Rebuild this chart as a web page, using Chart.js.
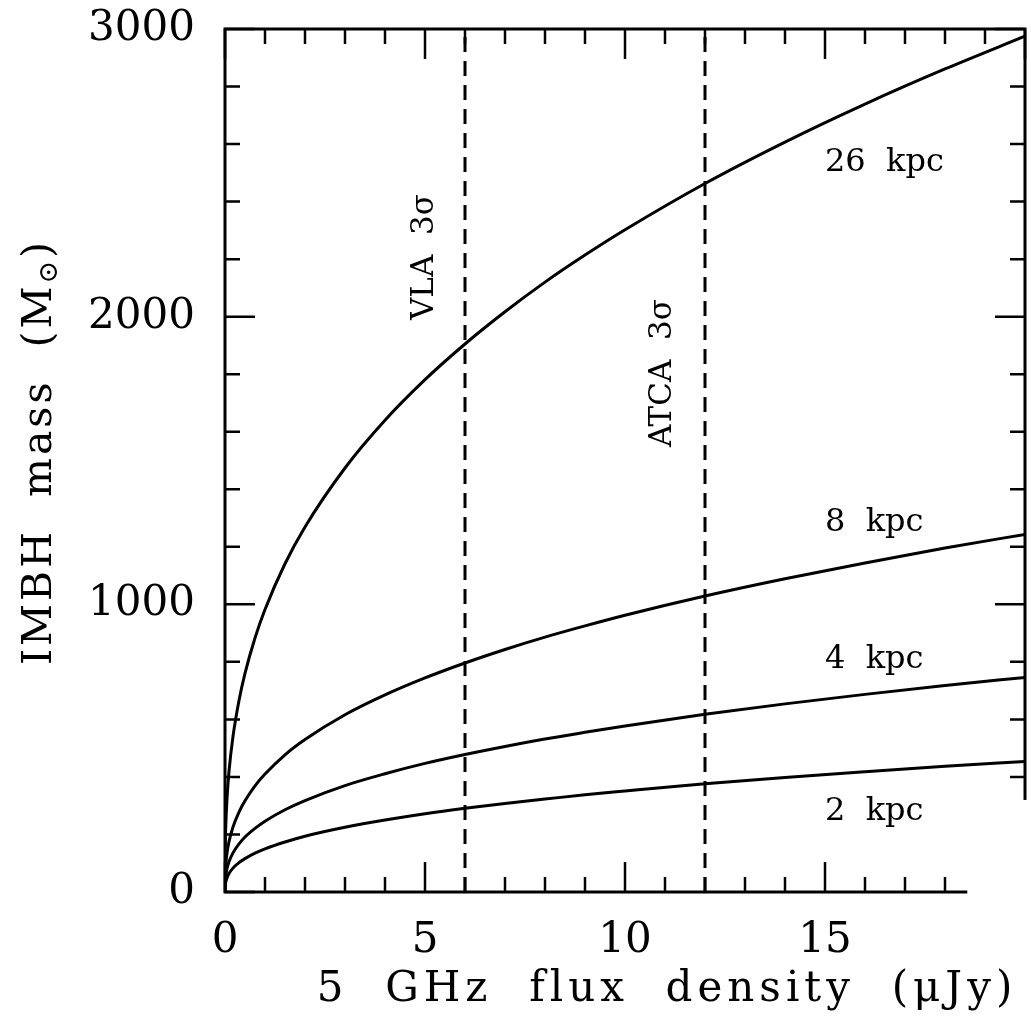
<!DOCTYPE html>
<html><head><meta charset="utf-8">
<script src="https://cdn.jsdelivr.net/npm/chart.js@4.4.1/dist/chart.umd.min.js"></script>
<style>html,body{margin:0;padding:0;background:#fff;}#wrap{width:1031px;height:1024px;}</style>
</head><body><div id="wrap"><canvas id="c" width="1031" height="1024"></canvas></div>
<script>
// ---- data ----
const flux = [0, 0.005, 0.02, 0.05, 0.1, 0.2, 0.35, 0.5, 0.75, 1, 1.5, 2, 3, 4, 5, 6, 7, 8, 9, 10, 12, 14, 16, 18, 20];
const mass26kpc = [0, 138, 231, 324, 419, 541, 666, 760, 883, 982, 1141, 1269, 1474, 1640, 1781, 1905, 2017, 2120, 2214, 2302, 2463, 2607, 2739, 2861, 2975];
const mass8kpc  = [0, 58, 96, 135, 175, 226, 278, 317, 369, 410, 477, 530, 616, 685, 744, 796, 843, 886, 925, 962, 1029, 1089, 1144, 1196, 1243];
const mass4kpc  = [0, 35, 58, 81, 105, 136, 167, 191, 221, 246, 286, 318, 370, 411, 447, 478, 506, 532, 555, 577, 618, 654, 687, 718, 746];
const mass2kpc  = [0, 21, 35, 49, 64, 83, 102, 116, 135, 150, 174, 194, 225, 250, 272, 291, 308, 323, 338, 351, 376, 398, 418, 437, 454];
const seriesNames = ['26  kpc', '8  kpc', '4  kpc', '2  kpc'];
const limitFlux = [6, 12];
const limitNames = ['VLA  3σ', 'ATCA  3σ'];
const xTickLabels = [0, 5, 10, 15];
const yTickLabels = [0, 1000, 2000, 3000];
const xRange = [0, 20];
const yRange = [0, 3000];

// ---- annotation placement (data coordinates) ----
const seriesLabelPos = [[15.0, 2534], [15.0, 1283], [15.0, 806], [15.0, 278]];
const limitLabelPos = [[5.0, 2207], [10.95, 1804]];
const maskFrom = [18.52, 320];

const FONT = '"DejaVu Serif", "Liberation Serif", serif';
const allMass = [mass26kpc, mass8kpc, mass4kpc, mass2kpc];

const datasets = allMass.map((m, i) => ({
  label: seriesNames[i],
  data: flux.map((x, j) => ({x: x, y: m[j]})),
  borderColor: '#000', borderWidth: 3, pointRadius: 0,
  cubicInterpolationMode: 'monotone', fill: false
}));
limitFlux.forEach((f, i) => datasets.push({
  label: limitNames[i],
  data: [{x: f, y: yRange[0]}, {x: f, y: yRange[1]}],
  borderColor: '#000', borderWidth: 3, borderDash: [15, 9], pointRadius: 0, fill: false
}));

const framePlugin = {
  id: 'frame',
  afterDraw(chart) {
    const {ctx, chartArea: a, scales: {x, y}} = chart;
    ctx.save();
    ctx.strokeStyle = '#000';
    ctx.lineWidth = 3;
    ctx.strokeRect(a.left, a.top, a.right - a.left, a.bottom - a.top);
    ctx.lineWidth = 2.5;
    ctx.beginPath();
    for (let v = xRange[0]; v <= xRange[1]; v += 1) {
      const px = x.getPixelForValue(v);
      const len = v % 5 === 0 ? 30 : 15;
      ctx.moveTo(px, a.bottom); ctx.lineTo(px, a.bottom - len);
      ctx.moveTo(px, a.top); ctx.lineTo(px, a.top + len);
    }
    for (let v = yRange[0]; v <= yRange[1]; v += 200) {
      const py = y.getPixelForValue(v);
      const len = v % 1000 === 0 ? 30 : 15;
      ctx.moveTo(a.left, py); ctx.lineTo(a.left + len, py);
      ctx.moveTo(a.right, py); ctx.lineTo(a.right - len, py);
    }
    ctx.stroke();

    // series labels
    ctx.fillStyle = '#000';
    ctx.font = '32px ' + FONT;
    ctx.textAlign = 'left'; ctx.textBaseline = 'middle';
    seriesNames.forEach((n, i) => {
      ctx.fillText(n, x.getPixelForValue(seriesLabelPos[i][0]), y.getPixelForValue(seriesLabelPos[i][1]));
    });
    // limit labels (rotated)
    ctx.font = '31px ' + FONT;
    ctx.textAlign = 'center';
    limitNames.forEach((n, i) => {
      ctx.save();
      ctx.translate(x.getPixelForValue(limitLabelPos[i][0]), y.getPixelForValue(limitLabelPos[i][1]));
      ctx.rotate(-Math.PI / 2);
      ctx.fillText(n, 0, 0);
      ctx.restore();
    });

    // y axis title with subscript
    ctx.save();
    ctx.translate(40, 452);
    ctx.rotate(-Math.PI / 2);
    ctx.letterSpacing = '3px';
    const main = 'IMBH  mass  (M';
    const sub = '⊙';
    const close = ')';
    ctx.font = '41px ' + FONT;
    const w1 = ctx.measureText(main).width;
    ctx.font = '27px ' + FONT;
    const w2 = ctx.measureText(sub).width;
    ctx.font = '41px ' + FONT;
    const w3 = ctx.measureText(close).width;
    let sx = -(w1 + w2 + w3) / 2;
    ctx.textAlign = 'left'; ctx.textBaseline = 'middle';
    ctx.fillText(main, sx, 0);
    ctx.font = '27px ' + FONT;
    ctx.fillText(sub, sx + w1, 10);
    ctx.font = '41px ' + FONT;
    ctx.fillText(close, sx + w1 + w2, 0);
    ctx.restore();

    // x axis title
    ctx.save();
    ctx.font = '42px ' + FONT;
    ctx.letterSpacing = '5px';
    ctx.textAlign = 'center'; ctx.textBaseline = 'middle';
    ctx.fillText('5  GHz  flux  density  (μJy)', 667, 990);
    ctx.restore();

    // white mask over lower-right corner (as in reference)
    ctx.fillStyle = '#fff';
    const mx = x.getPixelForValue(maskFrom[0]) + 1.5, my = y.getPixelForValue(maskFrom[1]);
    ctx.fillRect(mx, my, chart.width - mx, 958 - my);
    ctx.restore();
  }
};

new Chart(document.getElementById('c'), {
  type: 'line',
  data: {datasets},
  options: {
    responsive: false, animation: false, devicePixelRatio: 1,
    layout: {padding: {left: 0, right: 6, top: 29, bottom: 0}},
    plugins: {legend: {display: false}, tooltip: {enabled: false}},
    scales: {
      x: {
        type: 'linear', min: xRange[0], max: xRange[1],
        grid: {display: false, drawTicks: false}, border: {display: false},
        afterFit(s) { s.height = 132; s.paddingLeft = 0; s.paddingRight = 0; },
        afterBuildTicks(s) { s.ticks = xTickLabels.map(v => ({value: v})); },
        ticks: {font: {family: FONT, size: 42}, color: '#000', padding: 24, maxRotation: 0, autoSkip: false,
                callback: v => String(v)}
      },
      y: {
        type: 'linear', min: yRange[0], max: yRange[1],
        grid: {display: false, drawTicks: false}, border: {display: false},
        afterFit(s) { s.width = 225; s.paddingTop = 0; s.paddingBottom = 0; },
        afterBuildTicks(s) { s.ticks = yTickLabels.map(v => ({value: v})); },
        ticks: {font: {family: FONT, size: 42}, color: '#000', padding: 30, autoSkip: false,
                callback: v => String(v)}
      }
    }
  },
  plugins: [framePlugin]
});
</script></body></html>
